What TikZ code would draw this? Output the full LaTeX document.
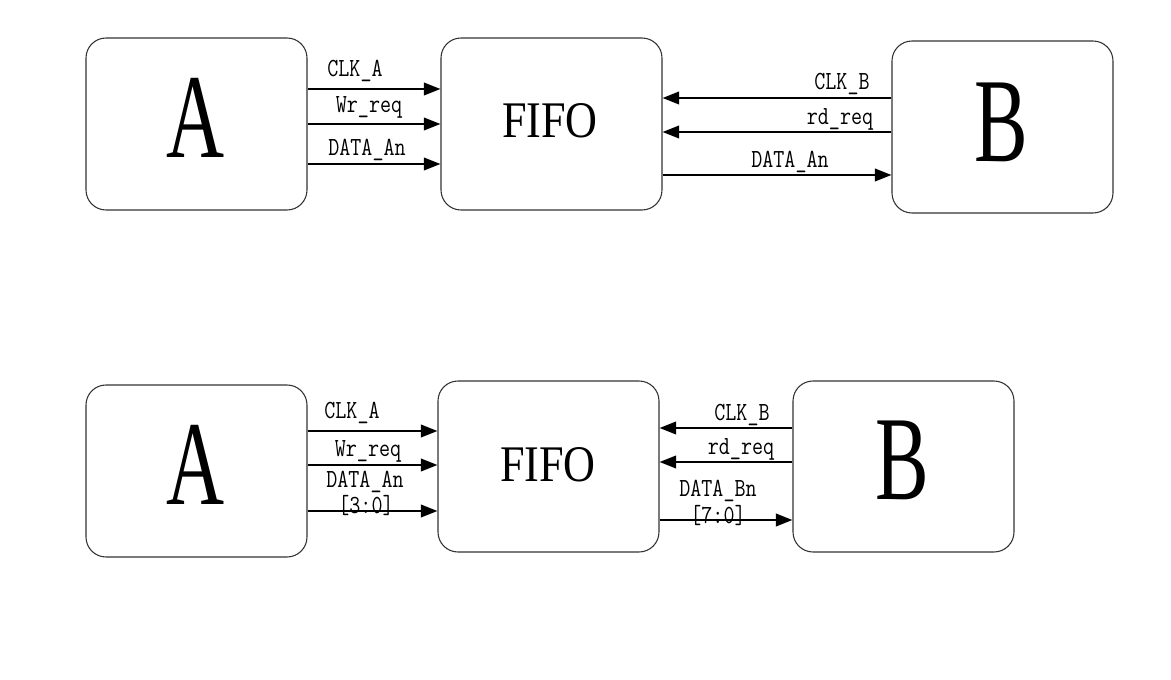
\documentclass[tikz,border=0pt]{standalone}
\usepackage{fontspec}
\usetikzlibrary{arrows.meta}
\newfontfamily\lblfont[FakeStretch=0.82]{Latin Modern Mono}
\newfontfamily\bigfont[FakeStretch=0.67]{Liberation Serif}
\newfontfamily\fifofont[FakeStretch=0.86]{Liberation Serif}
\tikzset{
  blk/.style={draw=black!80, line width=0.8pt, rounded corners=15pt,
    minimum width=221*0.75pt, minimum height=172*0.75pt, inner sep=0pt},
  arr/.style={line width=1.4pt, -{Triangle[length=12.5pt,width=9.5pt]}},
  lbl/.style={font=\lblfont\fontsize{19.6pt}{24pt}\selectfont, anchor=base, inner sep=0pt},
  big/.style={font=\bigfont\fontsize{90pt}{96pt}\selectfont, anchor=base, inner sep=0pt},
  fifo/.style={font=\fifofont\fontsize{38.5pt}{44pt}\selectfont, anchor=base, inner sep=0pt}
}
\begin{document}
\begin{tikzpicture}[x=0.75pt,y=-0.75pt]
\useasboundingbox (0,0) rectangle (1171,680);
% ---------- top row ----------
\node[blk] (A1) at (196.5,124) {};
\node[blk] (F1) at (551.5,124) {};
\node[blk] (B1) at (1002.5,127) {};
\node[big] (A1t) at (196,158) {A};
\node[fifo] (F1t) at (550,138) {FIFO};
\node[big] (B1t) at (1001,162) {B};

\draw[arr] (A1.east |- 0,89) -- (F1.west |- 0,89);
\draw[arr] (A1.east |- 0,124) -- (F1.west |- 0,124);
\draw[arr] (A1.east |- 0,164) -- (F1.west |- 0,164);
\node[lbl] (l1) at (355,77) {CLK\_A};
\node[lbl] (l2) at (369,113) {Wr\_req};
\node[lbl] (l3) at (367,156) {DATA\_An};

\draw[arr] (B1.west |- 0,98) -- (F1.east |- 0,98);
\draw[arr] (B1.west |- 0,132) -- (F1.east |- 0,132);
\draw[arr] (F1.east |- 0,175) -- (B1.west |- 0,175);
\node[lbl] (r1) at (842,90) {CLK\_B};
\node[lbl] (r2) at (840,125) {rd\_req};
\node[lbl] (r3) at (790,168) {DATA\_An};

% ---------- bottom row ----------
\node[blk] (A2) at (196.5,471) {};
\node[blk, minimum height=171*0.75pt] (F2) at (548.5,466.5) {};
\node[blk, minimum height=171*0.75pt] (B2) at (903.5,466.5) {};
\node[big] (A2t) at (196,505) {A};
\node[fifo] (F2t) at (548,482) {FIFO};
\node[big] (B2t) at (902,500) {B};

\draw[arr] (A2.east |- 0,431) -- (F2.west |- 0,431);
\draw[arr] (A2.east |- 0,465) -- (F2.west |- 0,465);
\draw[arr] (A2.east |- 0,511) -- (F2.west |- 0,511);
\node[lbl] (m1) at (352,419) {CLK\_A};
\node[lbl] (m2) at (368,457) {Wr\_req};
\node[lbl] (m3) at (365,488) {DATA\_An};
\node[lbl] (m4) at (366,514) {[3:0]};

\draw[arr] (B2.west |- 0,428) -- (F2.east |- 0,428);
\draw[arr] (B2.west |- 0,462) -- (F2.east |- 0,462);
\draw[arr] (F2.east |- 0,520) -- (B2.west |- 0,520);
\node[lbl] (n1) at (742,421) {CLK\_B};
\node[lbl] (n2) at (741,455) {rd\_req};
\node[lbl] (n3) at (718,497) {DATA\_Bn};
\node[lbl] (n4) at (718,524) {[7:0]};
\end{tikzpicture}
\end{document}
